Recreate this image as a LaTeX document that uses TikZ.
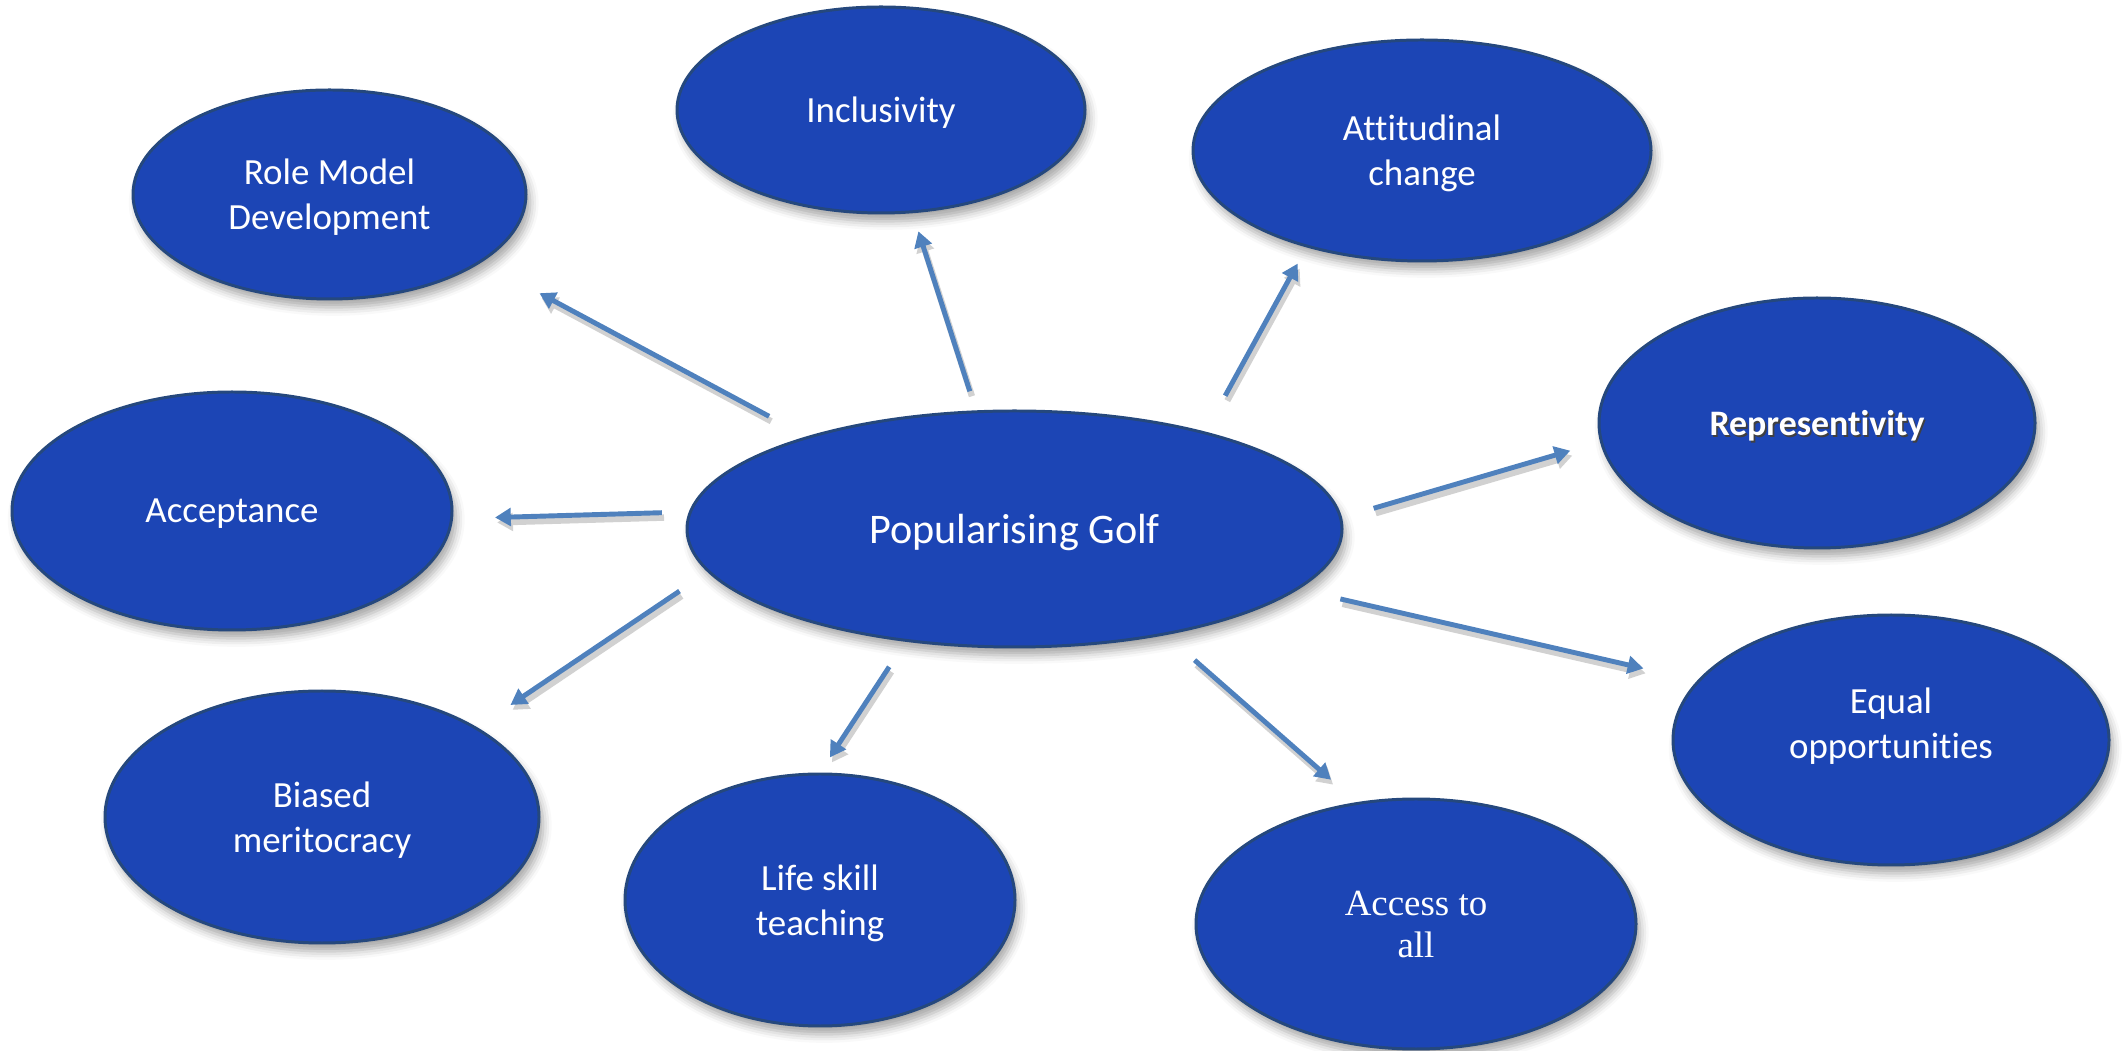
\documentclass[tikz,border=0pt]{standalone}
\usepackage{fontspec}
\setmainfont{Carlito}[Ligatures=NoCommon]
\newfontfamily\accessfont{Liberation Serif}
\usetikzlibrary{shapes.geometric,arrows.meta,shadows.blur}

\definecolor{ovalblue}{RGB}{28,69,181}
\definecolor{ringblue}{RGB}{37,72,125}
\definecolor{flowblue}{RGB}{79,129,189}

\newcommand\embossed[1]{\makebox[0pt][l]{\hspace{0.45pt}\raisebox{-0.55pt}{\color{black!75}#1}}#1}

\tikzset{
  topic/.style={ellipse, draw=ringblue, fill=ovalblue, line width=0.85pt,
    text=white, align=center, inner sep=0pt, text depth=0pt,
    font=\fontsize{10.5}{12.8}\selectfont,
    blur shadow={shadow xshift=1.2pt, shadow yshift=-2.4pt,
      shadow blur radius=2.4pt, shadow opacity=35}},
  flow/.style={draw=flowblue, line width=1.4pt,
    -{Triangle[length=4.5pt,width=5pt]},
    preaction={draw=black!18, line width=1.8pt,
      transform canvas={xshift=0.6pt,yshift=-1.4pt}}}
}

\begin{document}
\begin{tikzpicture}
\useasboundingbox (0,0) rectangle (21.22,10.51);

\node[topic, minimum width=6.55cm, minimum height=2.36cm,
  font=\fontsize{12}{14.5}\selectfont] (golf) at (10.145,5.22) {Popularising Golf};

\node[topic, minimum width=3.93cm, minimum height=2.09cm] (role) at (3.295,8.565) {Role Model\\Development};
\node[topic, minimum width=4.08cm, minimum height=2.06cm] (incl) at (8.81,9.41) {Inclusivity};
\node[topic, minimum width=4.58cm, minimum height=2.21cm] (att) at (14.22,9.005) {Attitudinal\\change};
\node[topic, minimum width=4.36cm, minimum height=2.50cm,
  font=\fontsize{10.2}{12.5}\selectfont\bfseries] (rep) at (18.17,6.28) {\embossed{Representivity}};
\node[topic, minimum width=4.40cm, minimum height=2.38cm] (acc) at (2.32,5.40) {Acceptance};
\node[topic, minimum width=4.34cm, minimum height=2.52cm] (bias) at (3.22,2.34) {Biased\\meritocracy};
\node[topic, minimum width=3.90cm, minimum height=2.52cm] (life) at (8.20,1.51) {Life skill\\teaching};
\node[topic, minimum width=4.40cm, minimum height=2.50cm,
  font=\accessfont\fontsize{10.5}{12}\selectfont] (access) at (14.16,1.27) {Access to\\all};
\node[topic, minimum width=4.36cm, minimum height=2.50cm, text depth=9.8pt] (equal) at (18.91,3.11) {Equal\\opportunities};

\path (golf.156.7) edge[flow, shorten <=4.25mm, shorten >=6.55mm] (role.336.1)
      (golf.108.7) edge[flow, shorten <=2mm, shorten >=1.9mm] (incl.287.1)
      (golf.27.2)  edge[flow, shorten <=4.1mm, shorten >=1.85mm] (att.220.8)
      (golf.2.1)   edge[flow, shorten <=3.3mm, shorten >=3.1mm] (rep.185.2)
      (golf.348.5) edge[flow, shorten <=4.3mm, shorten >=5.5mm] (equal.163.6)
      (golf.325.3) edge[flow, shorten <=3.8mm, shorten >=3.4mm] (access.116.8)
      (golf.177.5) edge[flow, shorten <=2.7mm, shorten >=4.2mm] (acc.358.7)
      (golf.188.4) edge[flow, shorten <=3.4mm, shorten >=4mm] (bias.30.1)
      (golf.226.6) edge[flow, shorten <=3mm, shorten >=1.8mm] (life.90);

\end{tikzpicture}
\end{document}
